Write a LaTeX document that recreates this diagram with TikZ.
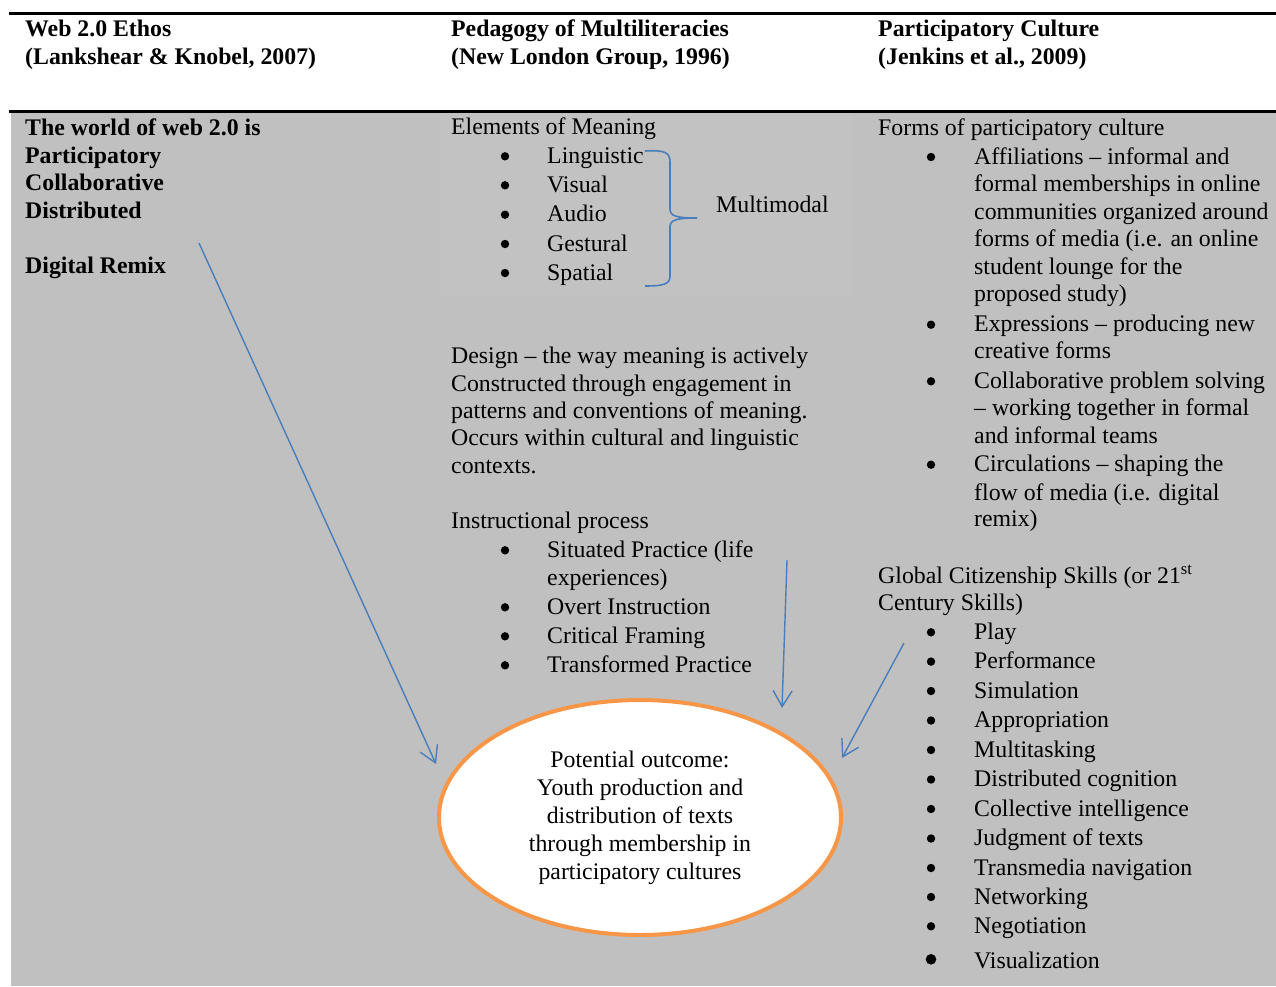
\documentclass[tikz,border=0pt]{standalone}
\usepackage{fontspec}
\setmainfont{Liberation Serif}
\usetikzlibrary{shapes.geometric,arrows.meta}
\definecolor{bg}{HTML}{C0C0C0}
\definecolor{bgl}{HTML}{C2C2C2}
\definecolor{arrowblue}{HTML}{4A7EBB}
\definecolor{ringorange}{HTML}{F79646}
\begin{document}
\begin{tikzpicture}[x=1pt,y=-1pt,
  txt/.style={anchor=base west,inner sep=0pt,font=\fontsize{23.8}{28}\selectfont},
  btxt/.style={anchor=base west,inner sep=0pt,font=\fontsize{23.8}{28}\selectfont\bfseries},
  bul/.style={circle,fill=black,inner sep=0pt,minimum size=8.4pt,yshift=7pt},
  conn/.style={draw=arrowblue,line width=1.4pt,-{Straight Barb[length=16pt,width=19pt]}}]
\useasboundingbox (0,0) rectangle (1276,986);
% background and rules
\fill[bg] (11,113) rectangle (1276,986);
\fill[bgl] (440,113) rectangle (852,295);
\draw[line width=2.8pt] (9,13.7) -- (1276,13.7);
\draw[line width=3.6pt] (9,111.3) -- (1276,111.3);

% headers
\node[btxt] (h1a) at (25,36) {Web 2.0 Ethos};
\node[btxt] (h1b) at (25,64) {(Lankshear \& Knobel, 2007)};
\node[btxt] (h2a) at (451,36) {Pedagogy of Multiliteracies};
\node[btxt] (h2b) at (451,64) {(New London Group, 1996)};
\node[btxt] (h3a) at (878,36) {Participatory Culture};
\node[btxt] (h3b) at (878,64) {(Jenkins et al., 2009)};

% left column
\node[btxt] (w1) at (25,135) {The world of web 2.0 is};
\node[btxt] (w2) at (25,163) {Participatory};
\node[btxt] (w3) at (25,190) {Collaborative};
\node[btxt] (w4) at (25,218) {Distributed};
\node[btxt] (w5) at (25,273) {Digital Remix};

% middle column
\node[txt] (em) at (451,134) {Elements of Meaning};
\node[bul] (emb1) at (505,163.3) {};
\node[bul] (emb2) at (505,192.3) {};
\node[bul] (emb3) at (505,221.7) {};
\node[bul] (emb4) at (505,251) {};
\node[bul] (emb5) at (505,280) {};
\node[txt] (em1) at (547,163.3) {Linguistic};
\node[txt] (em2) at (547,192.3) {Visual};
\node[txt] (em3) at (547,221.7) {Audio};
\node[txt] (em4) at (547,251) {Gestural};
\node[txt] (em5) at (547,280) {Spatial};
\node[txt] (mm) at (716,212.7) {Multimodal};
\draw[arrowblue,line width=1.6pt] (645,151) .. controls (664,150) and (670,152) .. (670,162)
  -- (670,209) .. controls (670,216) and (676,218) .. (697,218)
  .. controls (676,218) and (670,220) .. (670,227)
  -- (670,276) .. controls (670,284) and (664,286) .. (645,286);

\node[txt] (d1) at (451,363.3) {Design -- the way meaning is actively};
\node[txt] (d2) at (451,391) {Constructed through engagement in};
\node[txt] (d3) at (451,418.3) {patterns and conventions of meaning.};
\node[txt] (d4) at (451,445.5) {Occurs within cultural and linguistic};
\node[txt] (d5) at (451,473.3) {contexts.};

\node[txt] (ip) at (451,528.3) {Instructional process};
\node[bul] (ipb1) at (505,557.3) {};
\node[bul] (ipb2) at (505,614.3) {};
\node[bul] (ipb3) at (505,643.3) {};
\node[bul] (ipb4) at (505,672.3) {};
\node[txt] (ip1a) at (547,557.3) {Situated Practice (life};
\node[txt] (ip1b) at (547,585) {experiences)};
\node[txt] (ip2) at (547,614.3) {Overt Instruction};
\node[txt] (ip3) at (547,643.3) {Critical Framing};
\node[txt] (ip4) at (547,672.3) {Transformed Practice};

% right column
\node[txt] (fp) at (878,135) {Forms of participatory culture};
\node[bul] (fpb1) at (931,164) {};
\node[bul] (fpb2) at (931,331.7) {};
\node[bul] (fpb3) at (931,388.3) {};
\node[bul] (fpb4) at (931,471.7) {};
\node[txt] (fp1a) at (974,164) {Affiliations -- informal and};
\node[txt] (fp1b) at (974,191.7) {formal memberships in online};
\node[txt] (fp1c) at (974,219.3) {communities organized around};
\node[txt] (fp1d) at (974,246.7) {forms of media (i.e. an online};
\node[txt] (fp1e) at (974,274) {student lounge for the};
\node[txt] (fp1f) at (974,301.7) {proposed study)};
\node[txt] (fp2a) at (974,331.7) {Expressions -- producing new};
\node[txt] (fp2b) at (974,358.3) {creative forms};
\node[txt] (fp3a) at (974,388.3) {Collaborative problem solving};
\node[txt] (fp3b) at (974,415) {-- working together in formal};
\node[txt] (fp3c) at (974,443.3) {and informal teams};
\node[txt] (fp4a) at (974,471.7) {Circulations -- shaping the};
\node[txt] (fp4b) at (974,500) {flow of media (i.e. digital};
\node[txt] (fp4c) at (974,526.7) {remix)};

\node[txt] (gc1) at (878,583.3) {Global Citizenship Skills (or 21\textsuperscript{st}};
\node[txt] (gc2) at (878,610) {Century Skills)};
\foreach \n/\y/\s in {1/639.3/Play,2/668.6/Performance,3/698/Simulation,
   4/727.5/Appropriation,5/757/Multitasking,6/786.5/Distributed cognition,
   7/816/Collective intelligence,8/845.5/Judgment of texts,9/875/Transmedia navigation,
   10/904/Networking,11/933.3/Negotiation}{
  \node[bul] (gcb\n) at (931,\y) {};
  \node[txt] (gcs\n) at (974,\y) {\s};
}
\node[bul,minimum size=10.6pt,yshift=2pt] (gcb12) at (931,968.3) {};
\node[txt] (gcs12) at (974,968.3) {Visualization};

% outcome ellipse
\node[ellipse,draw=ringorange,line width=4pt,fill=white,minimum width=402pt,
  minimum height=235pt,inner sep=0pt,align=center,
  font=\fontsize{23.8}{28}\selectfont] (outcome) at (640,817.5)
  {Potential outcome:\\Youth production and\\distribution of texts\\through membership in\\participatory cultures};

% arrows
\coordinate (s1) at (199,243);
\coordinate (e1) at (436,764);
\coordinate (s2) at (787,560);
\coordinate (e2) at (782,708);
\coordinate (s3) at (904,643);
\coordinate (e3) at (842,758);
\draw[conn] (s1) -- (e1);
\draw[conn] (s2) -- (e2);
\draw[conn] (s3) -- (e3);
\end{tikzpicture}
\end{document}
